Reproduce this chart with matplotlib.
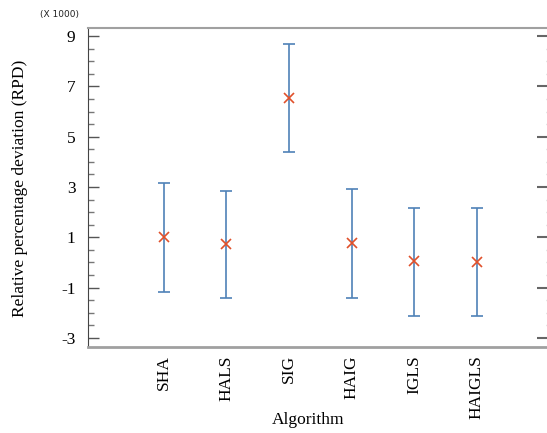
import matplotlib.pyplot as plt
from matplotlib.ticker import MultipleLocator

# ---------------- DATA (x 1000) ----------------
algorithms = ["SHA", "HALS", "SIG", "HAIG", "IGLS", "HAIGLS"]
means = [1.02, 0.73, 6.55, 0.78, 0.05, 0.03]
lower = [-1.16, -1.42, 4.40, -1.43, -2.12, -2.12]
upper = [3.17, 2.84, 8.68, 2.94, 2.17, 2.17]
y_ticks = [-3, -1, 1, 3, 5, 7, 9]

# ---------------- STYLE ----------------
BAR_COLOR = "#4f82b8"
MARK_COLOR = "#e0502a"
SPINE_COLOR = "#a0a0a0"
SERIF = ["Liberation Serif", "DejaVu Serif"]
plt.rcParams["axes.unicode_minus"] = False

fig = plt.figure(figsize=(5.47, 4.33), dpi=100)
ax = fig.add_axes([88 / 547, 86 / 433, 1 - 88 / 547, (347 - 28) / 433])

x = list(range(1, len(algorithms) + 1))
err_lo = [m - l for m, l in zip(means, lower)]
err_hi = [u - m for m, u in zip(means, upper)]

ax.errorbar(x, means, yerr=[err_lo, err_hi], fmt="none",
            ecolor=BAR_COLOR, elinewidth=1.2, capsize=4.5, capthick=1.2)
ax.plot(x, means, linestyle="none", marker="x", color=MARK_COLOR,
        markersize=7, markeredgewidth=1.2)

ax.set_xlim(-0.21, 7.12)
ax.set_ylim(-3.36, 9.32)
ax.set_xticks(x)
ax.set_xticklabels(algorithms, rotation=90, fontsize=12.5, family=SERIF)
ax.tick_params(axis="x", length=0, pad=6)

ax.yaxis.set_minor_locator(MultipleLocator(0.5))
ax.set_yticks(y_ticks)
ax.tick_params(axis="y", which="major", direction="in", length=8,
               width=1, color="#555555", labelsize=12.5, pad=9)
ax.tick_params(axis="y", which="minor", direction="in", length=4,
               width=1, color="#777777")
for lbl in ax.get_yticklabels():
    lbl.set_family(SERIF)

# right-hand ticks: short majors, faint dot minors
ax_r = ax.twinx()
ax_r.set_ylim(ax.get_ylim())
ax_r.set_yticks(y_ticks)
ax_r.yaxis.set_minor_locator(MultipleLocator(0.5))
ax_r.tick_params(axis="y", which="major", direction="in", length=7,
                 width=1.5, color="#666666", labelright=False)
ax_r.tick_params(axis="y", which="minor", direction="in", length=1,
                 width=1, color="#cccccc")
for s in ax_r.spines.values():
    s.set_visible(False)

ax.spines["right"].set_visible(False)
ax.spines["left"].set_color("#444444")
ax.spines["top"].set_color(SPINE_COLOR)
ax.spines["top"].set_linewidth(1.5)
ax.spines["bottom"].set_color(SPINE_COLOR)
ax.spines["bottom"].set_linewidth(2)

fig.text(20 / 547, 1 - 188 / 433, "Relative percentage deviation (RPD)",
         fontsize=12.5, family=SERIF, rotation=90, ha="center", va="center")
fig.text(308 / 547, 1 - 420 / 433, "Algorithm", fontsize=12.5,
         family=SERIF, ha="center", va="center")

fig.text(40 / 547, 1 - 14 / 433, "(X 1000)", fontsize=6.5, ha="left",
         va="center", color="#222222")

fig.savefig("out.png", dpi=100)
